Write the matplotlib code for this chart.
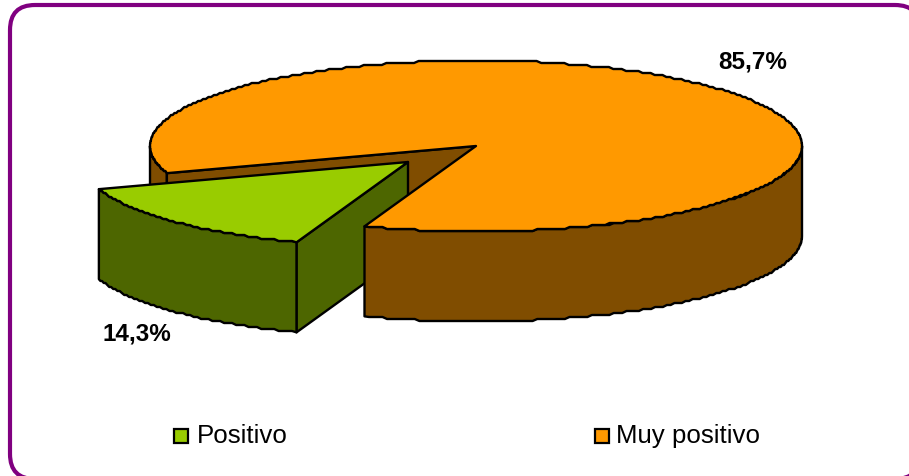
import numpy as np
import matplotlib
matplotlib.use("Agg")
import matplotlib.pyplot as plt
from matplotlib.patches import FancyBboxPatch, Polygon, Rectangle

categories = ["Positivo", "Muy positivo"]
values = [14.3, 85.7]
value_labels = ["14,3%", "85,7%"]
top_colors = ["#99CC00", "#FF9900"]
side_colors = ["#4D6600", "#804D00"]

plt.rcParams["font.family"] = ["Liberation Sans", "DejaVu Sans"]
W, H = 909, 477
fig = plt.figure(figsize=(W / 100, H / 100), dpi=100)
ax = fig.add_axes([0, 0, 1, 1])
ax.set_xlim(0, W)
ax.set_ylim(H, 0)
ax.axis("off")

ax.add_patch(FancyBboxPatch((10, 6), 910, 474, boxstyle="round,pad=0,rounding_size=25",
                            fc="white", ec="#800080", lw=3.0, zorder=0))

CX, CY, RX, RY, DEPTH = 476, 147, 326, 85.5, 90
OFFSET = (-68, 16)
START = 110.0
LW = 1.7
EC = "black"


def rim(a0, a1, cx, cy, dz=0):
    # Coarse vertices give the stepped outline of the original bitmap
    n = max(int(abs(a1 - a0) * 1.2), 1) + 1
    t = np.radians(np.linspace(a0, a1, n))
    pts = np.column_stack([cx + RX * np.cos(t), cy + RY * np.sin(t) + dz])
    inner = pts[1:-1]
    pts[1:-1] = np.column_stack([inner[:, 0], np.round(inner[:, 1] / 2) * 2])
    return pts


def poly(pts, color, z):
    ax.add_patch(Polygon(pts, closed=True, fc=color, ec=EC, lw=LW, joinstyle="round", zorder=z))


sweeps = np.array(values) / sum(values) * 360
a_g0, a_g1 = START, START + sweeps[0]
a_o0, a_o1 = a_g1, a_g1 + sweeps[1]


def point(a, cx, cy):
    t = np.radians(a)
    return np.array([cx + RX * np.cos(t), cy + RY * np.sin(t)])


# Orange: cut face and rear-left outer wall, behind the green slice
p_cut = point(a_o0, CX, CY)
poly([(CX, CY), p_cut, p_cut + (0, DEPTH), (CX, CY + DEPTH)], side_colors[1], 2)
poly(np.vstack([rim(a_o0, 180, CX, CY), rim(180, a_o0, CX, CY, DEPTH)]), side_colors[1], 1)

# Green exploded slice
gx, gy = CX + OFFSET[0], CY + OFFSET[1]
g_end = point(a_g0, gx, gy)
poly([(gx, gy), g_end, g_end + (0, DEPTH), (gx, gy + DEPTH)], side_colors[0], 3)
poly(np.vstack([rim(a_g0, a_g1, gx, gy), rim(a_g1, a_g0, gx, gy, DEPTH)]), side_colors[0], 3)
poly(np.vstack([[(gx, gy)], rim(a_g0, a_g1, gx, gy)]), top_colors[0], 4)

# Orange front wall and top
poly(np.vstack([rim(a_g0, 0, CX, CY), rim(0, a_g0, CX, CY, DEPTH)]), side_colors[1], 5)
poly(np.vstack([[(CX, CY)], rim(a_o0, a_o1, CX, CY)]), top_colors[1], 6)

# Value labels
ax.text(102, 334, value_labels[0], fontsize=17.5, fontweight="bold", ha="left", va="center", zorder=8)
ax.text(718, 62, value_labels[1], fontsize=17.5, fontweight="bold", ha="left", va="center", zorder=8)

# Legend
for name, color, mx, tx in zip(categories, top_colors, (173, 594), (197, 616)):
    ax.add_patch(Rectangle((mx + 1, 430), 14, 14, fc=color, ec="black", lw=1.6, zorder=8))
    ax.text(tx, 436, name, fontsize=18.6, ha="left", va="center", zorder=8)

fig.savefig("out.png", dpi=100)
